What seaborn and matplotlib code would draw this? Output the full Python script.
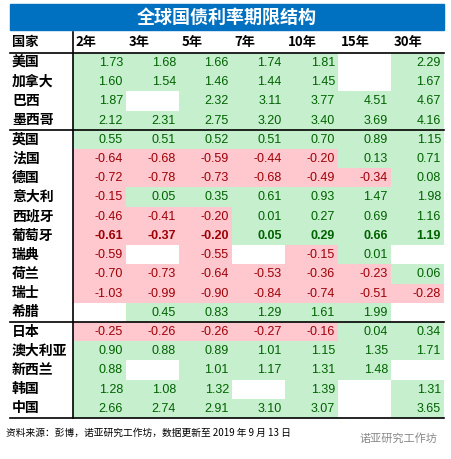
import numpy as np
import matplotlib.pyplot as plt
import seaborn as sns
from matplotlib.colors import ListedColormap

countries = ["美国", "加拿大", "巴西", "墨西哥",
             "英国", "法国", "德国", "意大利", "西班牙", "葡萄牙", "瑞典", "荷兰", "瑞士", "希腊",
             "日本", "澳大利亚", "新西兰", "韩国", "中国"]
tenors = ["2年", "3年", "5年", "7年", "10年", "15年", "30年"]
nan = np.nan
yields = np.array([
    [1.73, 1.68, 1.66, 1.74, 1.81, nan, 2.29],
    [1.60, 1.54, 1.46, 1.44, 1.45, nan, 1.67],
    [1.87, nan, 2.32, 3.11, 3.77, 4.51, 4.67],
    [2.12, 2.31, 2.75, 3.20, 3.40, 3.69, 4.16],
    [0.55, 0.51, 0.52, 0.51, 0.70, 0.89, 1.15],
    [-0.64, -0.68, -0.59, -0.44, -0.20, 0.13, 0.71],
    [-0.72, -0.78, -0.73, -0.68, -0.49, -0.34, 0.08],
    [-0.15, 0.05, 0.35, 0.61, 0.93, 1.47, 1.98],
    [-0.46, -0.41, -0.20, 0.01, 0.27, 0.69, 1.16],
    [-0.61, -0.37, -0.20, 0.05, 0.29, 0.66, 1.19],
    [-0.59, nan, -0.55, nan, -0.15, 0.01, nan],
    [-0.70, -0.73, -0.64, -0.53, -0.36, -0.23, 0.06],
    [-1.03, -0.99, -0.90, -0.84, -0.74, -0.51, -0.28],
    [nan, 0.45, 0.83, 1.29, 1.61, 1.99, nan],
    [-0.25, -0.26, -0.26, -0.27, -0.16, 0.04, 0.34],
    [0.90, 0.88, 0.89, 1.01, 1.15, 1.35, 1.71],
    [0.88, nan, 1.01, 1.17, 1.31, 1.48, nan],
    [1.28, 1.08, 1.32, nan, 1.39, nan, 1.31],
    [2.66, 2.74, 2.91, 3.10, 3.07, nan, 3.65],
])
bold_row = "葡萄牙"
group_breaks = [4, 14]

plt.rcParams['font.family'] = ['Noto Sans CJK SC', 'DejaVu Sans']
W, H = 452, 459
fig = plt.figure(figsize=(W / 100, H / 100), dpi=100)

def fx(px):
    return px / W

def fy(py):
    return 1 - py / H

# title bar
fig.patches.append(plt.Rectangle((fx(10), fy(30)), fx(434), 26 / H, color="#0070C0",
                                 transform=fig.transFigure))
fig.text(fx(227), fy(17), "全球国债利率期限结构", color="white", fontsize=13,
         fontweight="bold", ha="center", va="center")

left, right, top, bottom = 73, 444, 53, 418
ax = fig.add_axes([fx(left), fy(bottom), fx(right - left), (bottom - top) / H])
sign = np.where(np.isnan(yields), np.nan, (yields >= 0).astype(float))
sns.heatmap(sign, ax=ax, cmap=ListedColormap(["#FFC7CE", "#C6EFCE"]), vmin=0, vmax=1,
            cbar=False, xticklabels=False, yticklabels=False)
ax.set_xlim(0, len(tenors))
ax.set_ylim(len(countries), 0)

colw = (right - left) / len(tenors)
for i, c in enumerate(countries):
    w = "bold" if c == bold_row else "normal"
    ax.text(-(left - 12) / colw, i + 0.5, c, ha="left", va="center", fontsize=10,
            fontweight="bold", clip_on=False)
    for j in range(len(tenors)):
        v = yields[i, j]
        if np.isnan(v):
            continue
        ax.text(j + 0.94, i + 0.52, f"{v:.2f}", ha="right", va="center", fontsize=9,
                color="#006100" if v >= 0 else "#9C0006", fontweight=w,
                family="Liberation Sans")

# header
for j, t in enumerate(tenors):
    ax.text(j + 0.05, -0.55, t, ha="left", va="center", fontsize=9.5, fontweight="bold",
            clip_on=False)
ax.text(-(left - 12) / colw, -0.55, "国家", ha="left", va="center", fontsize=9.5,
        fontweight="bold", clip_on=False)

# rules
x0 = -(left - 10) / colw
for y in [0] + group_breaks + [len(countries)]:
    ax.plot([x0, len(tenors)], [y, y], color="black", lw=1.2, clip_on=False)
ax.plot([0, 0], [-1.1, len(countries)], color="black", lw=1.2, clip_on=False)

fig.text(fx(6), fy(433), "资料来源：彭博，诺亚研究工作坊，数据更新至 2019 年 9 月 13 日",
         fontsize=7, ha="left", va="center")
fig.text(fx(437), fy(438), "诺亚研究工作坊", fontsize=8, ha="right", va="center",
         color="#888888")

fig.savefig("out.png", dpi=100)
